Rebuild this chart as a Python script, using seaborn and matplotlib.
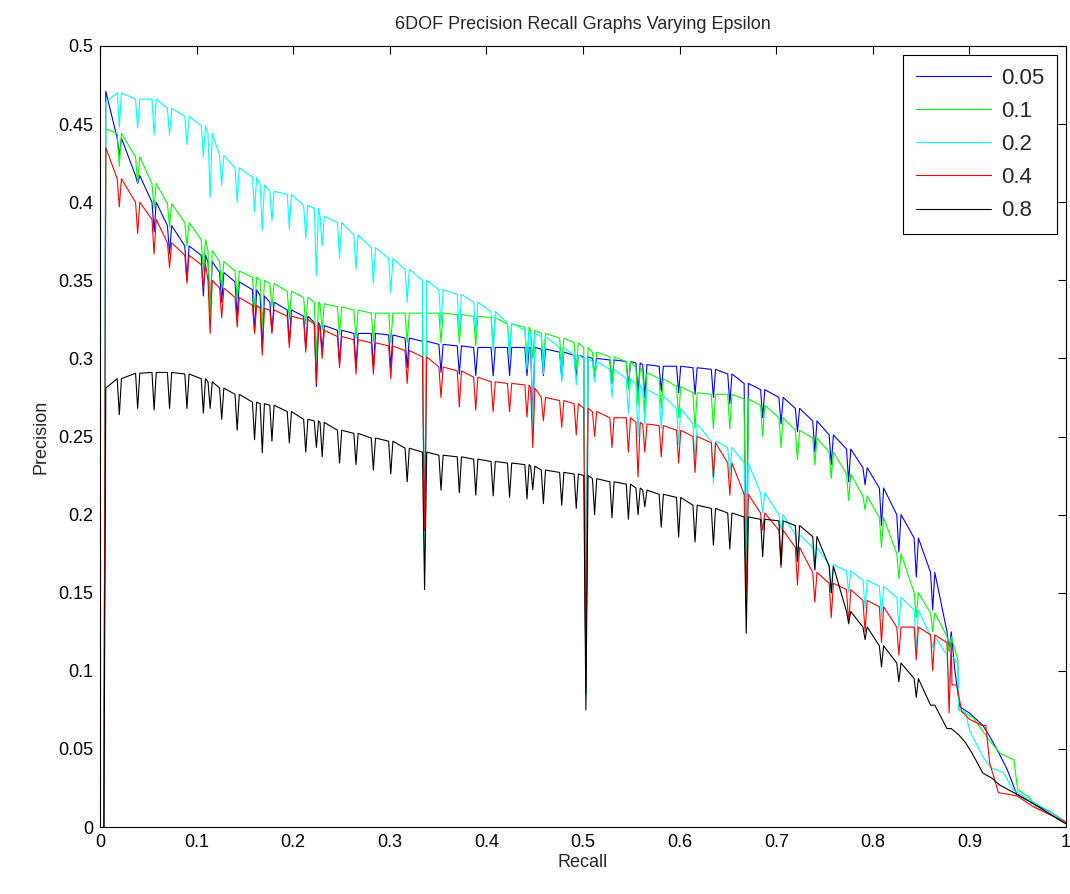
import numpy as np
import pandas as pd
import seaborn as sns
import matplotlib
matplotlib.use("Agg")
import matplotlib.pyplot as plt

# ---------------- data ----------------
labels = ["0.05", "0.1", "0.2", "0.4", "0.8"]
colors = ["#0000FF", "#00FF00", "#00FFFF", "#FF0000", "#000000"]

# recall positions of the periodic precision dips (shared by all curves)
dip_recall = [0.020, 0.039, 0.056, 0.072, 0.090, 0.107, 0.114, 0.126, 0.142, 0.160,
              0.168, 0.178, 0.196, 0.213, 0.224, 0.230, 0.248, 0.265, 0.283, 0.301,
              0.318, 0.336, 0.353, 0.372, 0.389, 0.407, 0.424, 0.442, 0.448, 0.459,
              0.478, 0.493, 0.503, 0.512, 0.530, 0.547, 0.557, 0.564, 0.581, 0.599,
              0.616, 0.635, 0.652, 0.669, 0.686, 0.705, 0.722, 0.740, 0.757, 0.775,
              0.792, 0.809, 0.827, 0.845, 0.862, 0.879]

start_recall = 0.006

# eps = 0.05 (blue)
blue_start = 0.471
blue_top = [0.441, 0.417, 0.400, 0.385, 0.372, 0.366, 0.362, 0.355, 0.349, 0.344,
            0.340, 0.336, 0.331, 0.327, 0.323, 0.321, 0.318, 0.316, 0.316, 0.315,
            0.313, 0.311, 0.309, 0.308, 0.307, 0.307, 0.307, 0.307, 0.307, 0.306,
            0.304, 0.302, 0.301, 0.300, 0.299, 0.298, 0.297, 0.296, 0.295, 0.295,
            0.294, 0.293, 0.290, 0.284, 0.280, 0.275, 0.268, 0.260, 0.251, 0.242,
            0.230, 0.217, 0.200, 0.185, 0.163, 0.125]
blue_dip = [0.430, 0.412, 0.381, 0.367, 0.350, 0.340, 0.330, 0.336, 0.326, 0.317,
            0.305, 0.317, 0.310, 0.307, 0.282, 0.305, 0.297, 0.295, 0.294, 0.294,
            0.294, 0.177, 0.291, 0.290, 0.289, 0.289, 0.289, 0.289, 0.262, 0.289,
            0.287, 0.288, 0.085, 0.287, 0.284, 0.282, 0.278, 0.275, 0.279, 0.278,
            0.277, 0.275, 0.271, 0.150, 0.262, 0.258, 0.253, 0.240, 0.232, 0.221,
            0.219, 0.193, 0.176, 0.160, 0.139, 0.113]
blue_tail_x = [0.885, 0.890, 0.900, 0.914, 0.921, 0.930, 0.939, 0.949, 0.966, 0.983, 1.0]
blue_tail_y = [0.100, 0.077, 0.073, 0.065, 0.058, 0.048, 0.037, 0.021, 0.015, 0.010, 0.003]

# eps = 0.1 (green)
green_start = 0.447
green_top = [0.444, 0.429, 0.412, 0.399, 0.387, 0.376, 0.369, 0.362, 0.356, 0.352,
             0.350, 0.348, 0.343, 0.339, 0.336, 0.335, 0.333, 0.331, 0.329, 0.329,
             0.329, 0.329, 0.329, 0.328, 0.327, 0.326, 0.322, 0.320, 0.318, 0.316,
             0.313, 0.310, 0.307, 0.304, 0.301, 0.298, 0.294, 0.291, 0.287, 0.282,
             0.278, 0.277, 0.277, 0.274, 0.270, 0.262, 0.254, 0.249, 0.240, 0.226,
             0.212, 0.198, 0.175, 0.150, 0.137, 0.122]
green_dip = [0.423, 0.412, 0.396, 0.384, 0.372, 0.356, 0.326, 0.345, 0.338, 0.333,
             0.320, 0.333, 0.325, 0.322, 0.300, 0.318, 0.315, 0.313, 0.311, 0.310,
             0.310, 0.165, 0.310, 0.310, 0.308, 0.307, 0.305, 0.300, 0.300, 0.298,
             0.296, 0.293, 0.085, 0.290, 0.285, 0.280, 0.270, 0.265, 0.268, 0.262,
             0.255, 0.255, 0.255, 0.140, 0.250, 0.243, 0.235, 0.232, 0.223, 0.209,
             0.203, 0.179, 0.159, 0.134, 0.125, 0.112]
green_tail_x = [0.888, 0.889, 0.904, 0.920, 0.932, 0.946, 0.950, 0.962, 0.970, 1.0]
green_tail_y = [0.107, 0.075, 0.070, 0.056, 0.047, 0.043, 0.024, 0.019, 0.012, 0.003]

# eps = 0.2 (cyan)
cyan_start = 0.464
cyan_top = [0.470, 0.466, 0.466, 0.460, 0.455, 0.449, 0.444, 0.430, 0.422, 0.416,
            0.411, 0.407, 0.405, 0.398, 0.396, 0.391, 0.387, 0.379, 0.371, 0.364,
            0.357, 0.350, 0.344, 0.341, 0.336, 0.330, 0.3225, 0.318, 0.316, 0.314,
            0.307, 0.302, 0.300, 0.298, 0.293, 0.287, 0.283, 0.280, 0.276, 0.268,
            0.258, 0.247, 0.243, 0.233, 0.214, 0.200, 0.187, 0.179, 0.168, 0.164,
            0.158, 0.154, 0.147, 0.139, 0.122, 0.110]
cyan_dip = [0.448, 0.4475, 0.443, 0.443, 0.437, 0.429, 0.403, 0.411, 0.400, 0.394,
            0.382, 0.388, 0.383, 0.377, 0.353, 0.372, 0.364, 0.357, 0.348, 0.342,
            0.336, 0.170, 0.321, 0.316, 0.316, 0.305, 0.300, 0.293, 0.250, 0.290,
            0.285, 0.283, 0.085, 0.285, 0.275, 0.265, 0.250, 0.258, 0.255, 0.245,
            0.235, 0.220, 0.225, 0.150, 0.201, 0.190, 0.175, 0.165, 0.149, 0.150,
            0.140, 0.135, 0.127, 0.113, 0.115, 0.090]
cyan_tail_x = [0.888, 0.889, 0.896, 0.900, 0.914, 0.922, 0.935, 0.945, 0.966, 0.983, 1.0]
cyan_tail_y = [0.105, 0.075, 0.074, 0.062, 0.045, 0.038, 0.035, 0.024, 0.016, 0.010, 0.003]

# eps = 0.4 (red)
red_start = 0.435
red_top = [0.415, 0.400, 0.389, 0.374, 0.366, 0.360, 0.350, 0.345, 0.339, 0.334,
           0.332, 0.331, 0.327, 0.325, 0.322, 0.318, 0.314, 0.312, 0.310, 0.308,
           0.305, 0.301, 0.2945, 0.292, 0.288, 0.285, 0.284, 0.283, 0.281, 0.275,
           0.273, 0.271, 0.268, 0.266, 0.262, 0.262, 0.259, 0.258, 0.257, 0.254,
           0.250, 0.246, 0.233, 0.213, 0.201, 0.190, 0.179, 0.163, 0.156, 0.152,
           0.145, 0.141, 0.128, 0.128, 0.123, 0.118]
red_dip = [0.397, 0.380, 0.367, 0.358, 0.348, 0.345, 0.316, 0.326, 0.320, 0.316,
           0.302, 0.316, 0.307, 0.304, 0.284, 0.300, 0.294, 0.290, 0.290, 0.287,
           0.284, 0.190, 0.275, 0.269, 0.267, 0.266, 0.266, 0.2625, 0.243, 0.260,
           0.256, 0.251, 0.090, 0.250, 0.243, 0.240, 0.224, 0.240, 0.237, 0.233,
           0.227, 0.224, 0.2125, 0.150, 0.190, 0.166, 0.155, 0.144, 0.134, 0.130,
           0.125, 0.118, 0.110, 0.107, 0.100, 0.073]
red_tail_x = [0.882, 0.887, 0.892, 0.900, 0.913, 0.917, 0.921, 0.930, 0.949, 0.966, 1.0]
red_tail_y = [0.091, 0.091, 0.074, 0.069, 0.065, 0.065, 0.041, 0.022, 0.020, 0.013, 0.003]

# eps = 0.8 (black)
black_start = 0.281
black_top = [0.287, 0.2905, 0.291, 0.291, 0.290, 0.287, 0.285, 0.281, 0.277, 0.272,
             0.271, 0.270, 0.266, 0.261, 0.260, 0.259, 0.254, 0.252, 0.249, 0.247,
             0.2425, 0.240, 0.238, 0.237, 0.2355, 0.234, 0.233, 0.232, 0.231, 0.2285,
             0.227, 0.226, 0.225, 0.223, 0.221, 0.2195, 0.217, 0.2157, 0.213, 0.211,
             0.206, 0.204, 0.201, 0.1985, 0.197, 0.196, 0.193, 0.186, 0.167, 0.138,
             0.128, 0.116, 0.105, 0.095, 0.078, 0.063]
black_dip = [0.264, 0.268, 0.267, 0.268, 0.268, 0.265, 0.268, 0.261, 0.254, 0.248,
             0.2395, 0.247, 0.246, 0.240, 0.243, 0.237, 0.233, 0.232, 0.2285, 0.226,
             0.221, 0.152, 0.2157, 0.214, 0.2125, 0.212, 0.211, 0.210, 0.216, 0.207,
             0.206, 0.204, 0.075, 0.200, 0.198, 0.197, 0.200, 0.205, 0.192, 0.1857,
             0.1825, 0.1805, 0.178, 0.124, 0.173, 0.168, 0.170, 0.1645, 0.150, 0.1305,
             0.120, 0.1025, 0.093, 0.083, 0.078, 0.063]
black_tail_x = [0.889, 0.896, 0.903, 0.914, 0.924, 0.931, 0.949, 0.966, 0.983, 0.993, 1.0]
black_tail_y = [0.059, 0.054, 0.047, 0.0345, 0.031, 0.027, 0.021, 0.015, 0.0085, 0.0045, 0.002]

x_ticks = [0, 0.1, 0.2, 0.3, 0.4, 0.5, 0.6, 0.7, 0.8, 0.9, 1.0]
x_tick_labels = ["0", "0.1", "0.2", "0.3", "0.4", "0.5", "0.6", "0.7", "0.8", "0.9", "1"]
y_ticks = [0, 0.05, 0.1, 0.15, 0.2, 0.25, 0.3, 0.35, 0.4, 0.45, 0.5]
y_tick_labels = ["0", "0.05", "0.1", "0.15", "0.2", "0.25", "0.3", "0.35", "0.4", "0.45", "0.5"]

series = [
    (blue_start, blue_top, blue_dip, blue_tail_x, blue_tail_y),
    (green_start, green_top, green_dip, green_tail_x, green_tail_y),
    (cyan_start, cyan_top, cyan_dip, cyan_tail_x, cyan_tail_y),
    (red_start, red_top, red_dip, red_tail_x, red_tail_y),
    (black_start, black_top, black_dip, black_tail_x, black_tail_y),
]


def build_curve(start, top, dip, tail_x, tail_y):
    xs = [0.004, start_recall]
    ys = [0.0, start]
    for d, t, m in zip(dip_recall, top, dip):
        xs += [d - 0.0022, d, d + 0.0022]
        ys += [t, m, t]
    xs += tail_x
    ys += tail_y
    return pd.DataFrame({"Recall": xs, "Precision": ys})


# ---------------- style ----------------
sns.set_style("white")
plt.rcParams["font.family"] = ["Liberation Sans", "DejaVu Sans"]
plt.rcParams["xtick.direction"] = "in"
plt.rcParams["ytick.direction"] = "in"

fig = plt.figure(figsize=(10.70, 8.94), dpi=100)
ax = fig.add_axes([100 / 1070, 1 - 827 / 894, 966 / 1070, 781 / 894])

for (start, top, dip, tx, ty), lab, col in zip(series, labels, colors):
    df = build_curve(start, top, dip, tx, ty)
    sns.lineplot(data=df, x="Recall", y="Precision", color=col, label=lab,
                 linewidth=0.8, estimator=None, sort=False, ax=ax)

ax.set_xlim(0, 1)
ax.set_ylim(0, 0.5)
ax.set_xticks(x_ticks)
ax.set_xticklabels(x_tick_labels)
ax.set_yticks(y_ticks)
ax.set_yticklabels(y_tick_labels)
ax.tick_params(axis="both", which="both", direction="in", length=6, width=0.8,
               top=True, right=True, labelsize=13, colors="black", pad=5)
for s in ax.spines.values():
    s.set_visible(True)
    s.set_color("black")
    s.set_linewidth(0.8)

ax.set_title("6DOF Precision Recall Graphs Varying Epsilon", fontsize=13, pad=12)
ax.set_xlabel("Recall", fontsize=13, labelpad=2)
ax.set_ylabel("Precision", fontsize=13, labelpad=6)

leg = ax.legend(loc="upper right", fontsize=16, frameon=True, fancybox=False,
                edgecolor="black", framealpha=1, handlelength=3.4, handletextpad=0.45,
                borderaxespad=0.42, labelspacing=0.55, borderpad=0.55)
leg.get_frame().set_linewidth(0.8)

fig.savefig("out.png", dpi=100)
